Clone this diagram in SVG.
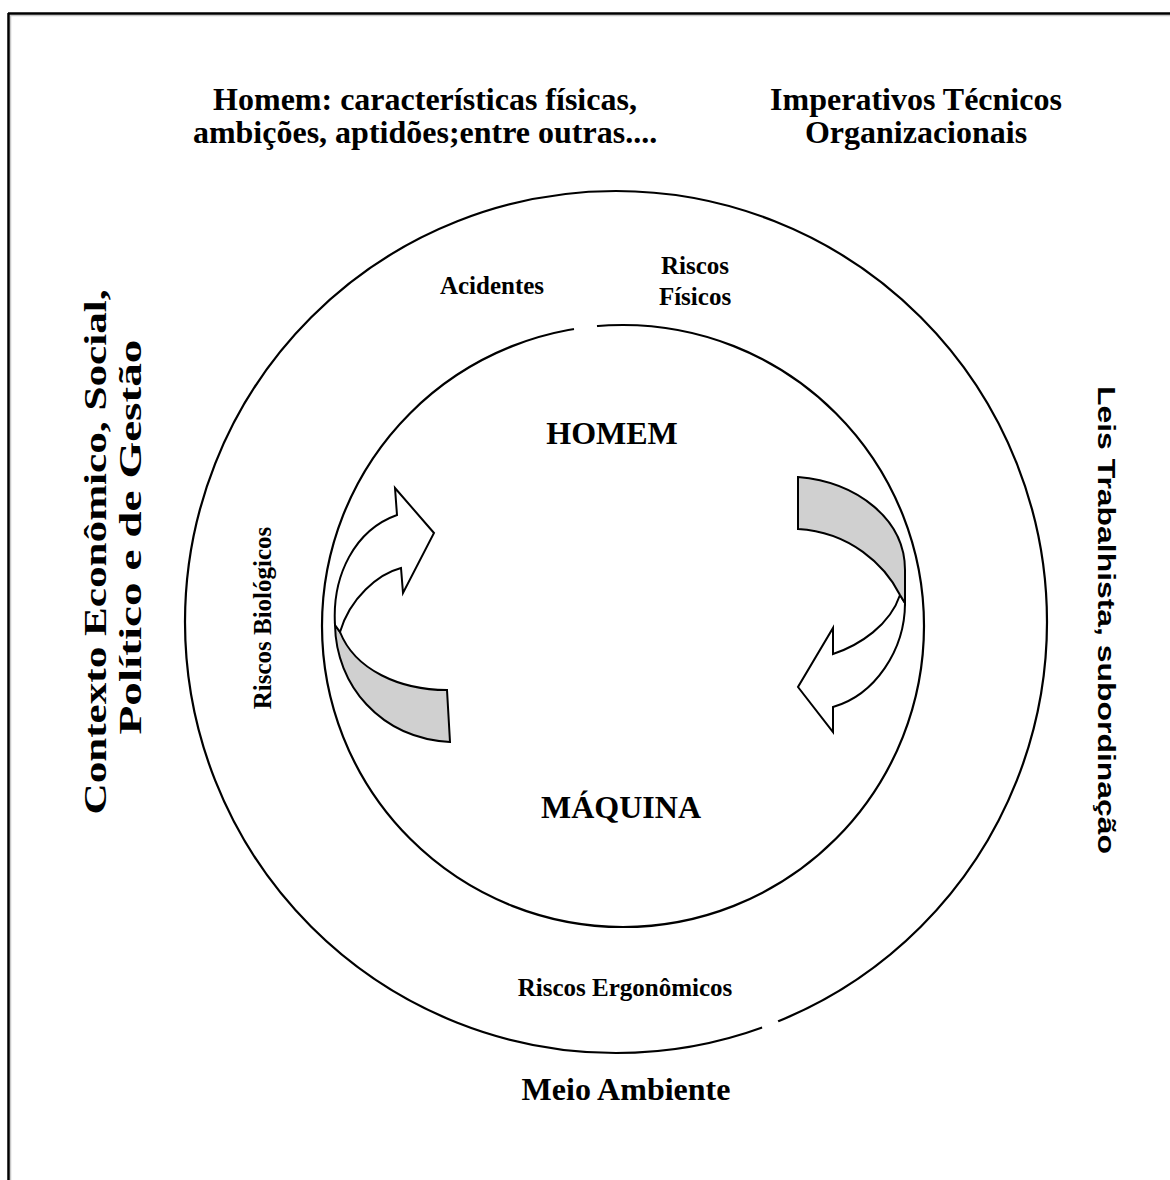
<svg xmlns="http://www.w3.org/2000/svg" width="1170" height="1180" viewBox="0 0 1170 1180">
  <style>
    .frame{stroke:#000;stroke-width:2.5;fill:none}
    .shadow{stroke:#c8c8c8;stroke-width:1.5;fill:none}
    .ring{fill:none;stroke:#000;stroke-width:2.2}
    .gap{fill:none;stroke:#fff;stroke-width:5}
    .front{fill:#fff;stroke:#000;stroke-width:2;stroke-linejoin:miter}
    .back{fill:#d0d0d0;stroke:#000;stroke-width:2;stroke-linejoin:miter}
    .serif{font-family:"Liberation Serif","Times New Roman",serif;font-weight:bold;fill:#000}
    .sans{font-family:"Liberation Sans",Arial,sans-serif;font-weight:bold;fill:#000}
    .big{font-size:32px}
    .small{font-size:25px}
  </style>

  <rect width="1170" height="1180" fill="#fff"/>

  <!-- page frame: top and left edges only -->
  <g id="frame">
    <path class="shadow" d="M10,15.5 H1170 M10.5,15 V1180"/>
    <path class="frame" d="M8,13.5 H1170 M8.5,13 V1180"/>
  </g>

  <!-- concentric rings -->
  <g id="outer-ring">
    <circle class="ring" cx="616" cy="622" r="431"/>
    <path class="gap" d="M762,1027 Q770,1025 778,1021"/>
  </g>
  <g id="inner-ring">
    <circle class="ring" cx="623" cy="626" r="301"/>
    <path class="gap" d="M574,329 Q588,327 597,326"/>
  </g>

  <!-- cycle arrows -->
  <g id="connectors">
    <g id="arrow-up">
      <path class="back" d="M335,625 C336,685 380,738 450,742 L447,690 C400,690 355,670 340,632 Z"/>
      <path class="front" d="M335,625 C332,575 355,530 397,515 L395,488 L434,533 L403,593 L401,568 C378,574 350,598 340,632 Z"/>
    </g>
    <g id="arrow-down">
      <path class="front" d="M905,603 C905,650 875,695 833,707 L833,732 L798,687 L833,628 L833,654 C860,645 890,625 900,595 Z"/>
      <path class="back" d="M798,477 C858,482 905,520 905,570 L905,603 L900,595 C885,565 850,532 798,529 Z"/>
    </g>
  </g>

  <!-- outer labels -->
  <g id="label-homem-caracteristicas">
    <text class="serif big" text-anchor="middle" x="425" y="110">Homem: características físicas,</text>
    <text class="serif big" text-anchor="middle" x="425" y="143">ambições, aptidões;entre outras....</text>
  </g>
  <g id="label-imperativos">
    <text class="serif big" text-anchor="middle" x="916" y="110">Imperativos Técnicos</text>
    <text class="serif big" text-anchor="middle" x="916" y="143">Organizacionais</text>
  </g>
  <g id="label-contexto">
    <text class="serif big" text-anchor="middle" transform="translate(106,552) rotate(-90)" textLength="525" lengthAdjust="spacingAndGlyphs">Contexto Econômico, Social,</text>
    <text class="serif big" text-anchor="middle" transform="translate(141,537) rotate(-90)" textLength="395" lengthAdjust="spacingAndGlyphs">Político e de Gestão</text>
  </g>
  <g id="label-leis">
    <text class="sans" font-size="24" text-anchor="middle" transform="translate(1098,620) rotate(90)" textLength="468" lengthAdjust="spacingAndGlyphs">Leis Trabalhista, subordinação</text>
  </g>
  <g id="label-meio-ambiente">
    <text class="serif big" text-anchor="middle" x="626" y="1100">Meio Ambiente</text>
  </g>

  <!-- risk labels between the rings -->
  <g id="label-acidentes">
    <text class="serif small" text-anchor="middle" x="492" y="294">Acidentes</text>
  </g>
  <g id="label-riscos-fisicos">
    <text class="serif small" text-anchor="middle" x="695" y="274">Riscos</text>
    <text class="serif small" text-anchor="middle" x="695" y="305">Físicos</text>
  </g>
  <g id="label-riscos-biologicos">
    <text class="serif small" text-anchor="middle" transform="translate(271,618) rotate(-90)">Riscos Biológicos</text>
  </g>
  <g id="label-riscos-ergonomicos">
    <text class="serif small" text-anchor="middle" x="625" y="996">Riscos Ergonômicos</text>
  </g>

  <!-- central labels -->
  <g id="node-homem">
    <text class="serif big" text-anchor="middle" x="612" y="444">HOMEM</text>
  </g>
  <g id="node-maquina">
    <text class="serif big" text-anchor="middle" x="621" y="818">MÁQUINA</text>
  </g>
</svg>
